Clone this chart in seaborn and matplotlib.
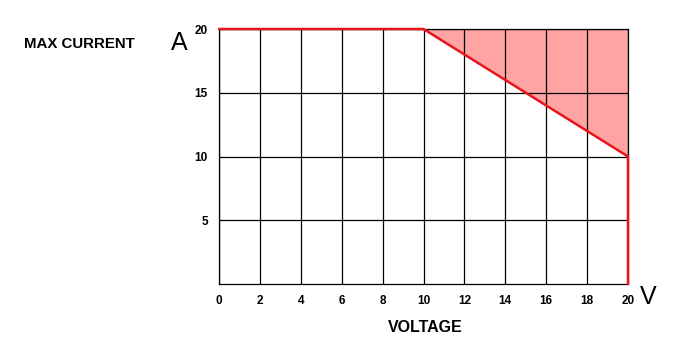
import matplotlib
matplotlib.use("Agg")
import matplotlib.pyplot as plt
import seaborn as sns
import numpy as np

# Data
voltage = [0, 10, 20, 20]
current = [20, 20, 10, 0]
shade_x = [10, 20]
shade_low = [20, 10]
shade_high = [20, 20]
x_ticks = [0, 2, 4, 6, 8, 10, 12, 14, 16, 18, 20]
y_ticks = [5, 10, 15, 20]

sns.set_style("white")
fam = ['Liberation Sans', 'DejaVu Sans']
plt.rcParams['font.family'] = fam

fig = plt.figure(figsize=(6.76, 3.56), dpi=100)
ax = fig.add_axes([219/676, 1-284/356, (628-219)/676, (284-29)/356])

ax.set_xlim(0, 20)
ax.set_ylim(0, 20)
ax.set_xticks(x_ticks)
ax.set_yticks(y_ticks)
ax.grid(True, color='black', linewidth=0.9)
ax.set_axisbelow(True)

ax.fill_between(shade_x, shade_low, shade_high, color='#ffa3a3', linewidth=0, zorder=0.2)
sns.lineplot(x=voltage, y=current, sort=False, estimator=None, color='#e8161c',
             linewidth=1.8, ax=ax, zorder=4)
for ln in ax.lines:
    ln.set_clip_on(False)

for s in ax.spines.values():
    s.set_color('black')
    s.set_linewidth(0.9)
    s.set_visible(True)

ax.tick_params(axis='both', length=2, width=0.8, color='black', labelsize=8.5,
               pad=6, labelcolor='black')
ax.tick_params(axis='x', length=0, pad=8)
for lab in ax.get_xticklabels() + ax.get_yticklabels():
    lab.set_fontweight('bold')
ax.set_xlabel('')
ax.set_ylabel('')

fig.text(24/676, 1-44/356, 'MAX CURRENT', fontsize=10.8, fontweight='bold',
         ha='left', va='center', color='black')
fig.text(179/676, 1-43/356, 'A', fontsize=18, ha='center', va='center', color='black')
fig.text(648/676, 1-297/356, 'V', fontsize=18, ha='center', va='center', color='black')
fig.text(425/676, 1-327/356, 'VOLTAGE', fontsize=11.5, fontweight='bold',
         ha='center', va='center', color='black')

fig.savefig('out.png', dpi=100)
